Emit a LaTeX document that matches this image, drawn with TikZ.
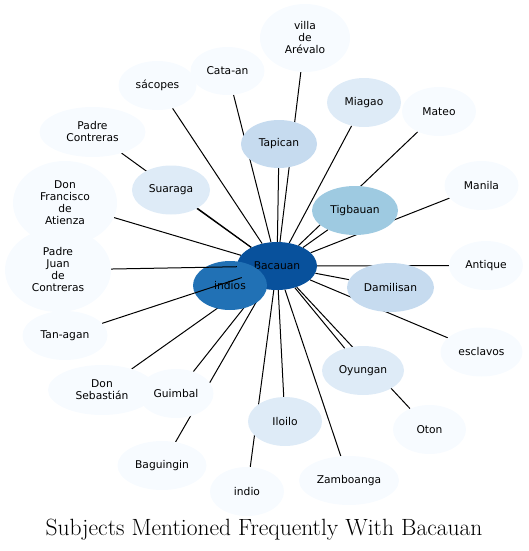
\documentclass[tikz,border=0pt]{standalone}
\usepackage{fontspec}
\newfontfamily\nodefont{DejaVu Sans}
\usetikzlibrary{shapes.geometric,backgrounds}
\definecolor{b1}{HTML}{F7FBFF}
\definecolor{b2}{HTML}{DEEBF7}
\definecolor{b3}{HTML}{C6DBEF}
\definecolor{b4}{HTML}{9ECAE1}
\definecolor{b6}{HTML}{2171B5}
\definecolor{b7}{HTML}{08519C}
\tikzset{
  ent/.style={ellipse, inner sep=0pt, minimum width=74pt, minimum height=49pt,
    font=\nodefont\fontsize{10.7}{12}\selectfont, align=center, fill=b1, draw=none},
  link/.style={draw=black, line width=1pt},
  titletext/.style={font=\fontsize{23.5}{28}\selectfont, anchor=base, inner sep=0pt},
}
\begin{document}
\begin{tikzpicture}[x=1pt,y=-1pt]
\useasboundingbox (0,0) rectangle (528,551);
% nodes
\node[ent, fill=b7, minimum width=80pt, minimum height=48pt] (bac) at (277,266) {Bacauan};
\node[ent, fill=b6] (indios) at (230,285.5) {indios};
\node[ent, fill=b3, minimum width=76pt, minimum height=48pt] (tap) at (279,144) {Tapican};
\node[ent, fill=b4, minimum width=86pt] (tig) at (355,210.5) {Tigbauan};
\node[ent, fill=b3, minimum width=87pt] (dam) at (390.5,287.5) {Damilisan};
\node[ent, fill=b2, minimum width=78pt] (sua) at (171,190) {Suaraga};
\node[ent, fill=b2] (mia) at (364,102.5) {Miagao};
\node[ent, fill=b2, minimum width=82pt] (oyu) at (363,370.5) {Oyungan};
\node[ent, fill=b2] (ilo) at (285,421.5) {Iloilo};
\node[ent, minimum width=90pt, minimum height=68pt] (vil) at (305,38) {villa\\de\\Arévalo};
\node[ent, minimum height=48pt] (cat) at (227.5,71) {Cata-an};
\node[ent, minimum width=78pt] (sac) at (157.5,85.5) {sácopes};
\node[ent, minimum width=106pt, minimum height=50pt] (pc) at (92.5,132) {Padre\\Contreras};
\node[ent, minimum width=104pt, minimum height=84pt] (dfa) at (65,203) {Don\\Francisco\\de\\Atienza};
\node[ent, minimum width=106pt, minimum height=84pt] (pjc) at (58,270) {Padre\\Juan\\de\\Contreras};
\node[ent, minimum width=85pt] (tan) at (65,335.5) {Tan-agan};
\node[ent, minimum width=108pt, minimum height=50pt] (dse) at (102,390) {Don\\Sebastián};
\node[ent, minimum width=75pt] (gui) at (176,393.5) {Guimbal};
\node[ent, minimum width=89pt] (bag) at (162,465.5) {Baguingin};
\node[ent] (ind) at (247,491.5) {indio};
\node[ent, minimum width=100pt] (zam) at (349,480.5) {Zamboanga};
\node[ent, minimum width=73pt] (oto) at (429.5,429.5) {Oton};
\node[ent, minimum width=82pt] (esc) at (481.5,352) {esclavos};
\node[ent] (ant) at (486,265.5) {Antique};
\node[ent] (man) at (481.5,185.5) {Manila};
\node[ent] (mat) at (439,111.5) {Mateo};
% edges under the nodes
\begin{scope}[on background layer]
  \foreach \t in {vil,cat,sac,pc,sua,dfa,dse,gui,bag,ind,ilo,zam,oyu,oto,esc,dam,ant,man,tig,mat,mia,tap}
    \draw[link] (bac) -- (\t);
\end{scope}
% edges drawn over indios
\draw[link] (bac) -- (pjc);
\draw[link] (bac) -- (tan);
% title
\node[titletext] (title) at (264,535) {Subjects Mentioned Frequently With Bacauan};
\end{tikzpicture}
\end{document}
